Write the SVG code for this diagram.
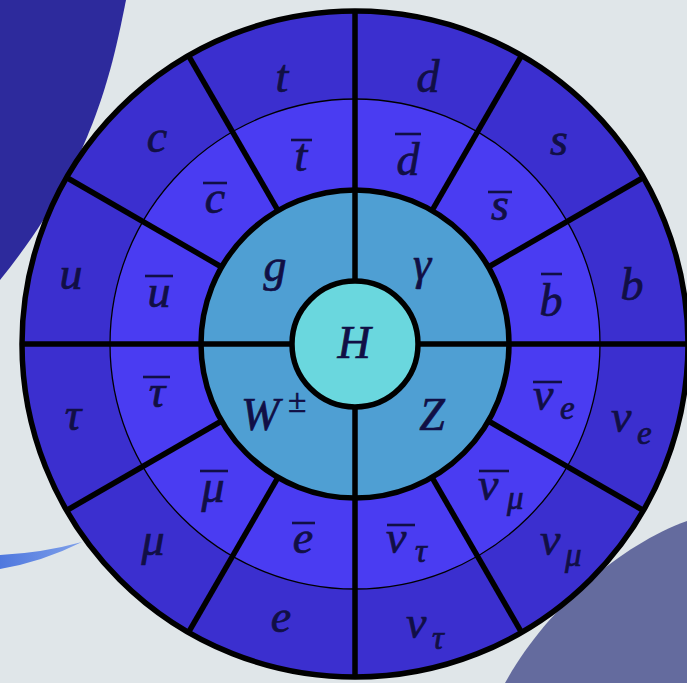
<svg xmlns="http://www.w3.org/2000/svg" width="687" height="683" viewBox="0 0 687 683">
<style>
.bg{fill:#e0e6e9}
.part{fill:#3b2fcf}
.anti{fill:#4a3cf2}
.bos{fill:#4f9fd3}
.hig{fill:#6ad7de}
.lbl{font-family:"Liberation Serif","DejaVu Serif",serif;font-style:italic;font-size:46px;fill:#110f45;stroke:#110f45;stroke-width:0.7}
.sub{font-size:33px}
.bar{stroke:#110f45;stroke-width:2.6}
.thick{fill:none;stroke:#000;stroke-width:5.5}
.thin{fill:none;stroke:#000;stroke-width:1.3}
</style>
<defs>
<linearGradient id="swoosh" x1="0" y1="0" x2="1" y2="0">
<stop offset="0" stop-color="#4f78de"/>
<stop offset="1" stop-color="#7fa0ea"/>
</linearGradient>
</defs>
<rect class="bg" x="0" y="0" width="687" height="683"/>
<g id="background-shapes">
<path d="M0,0 L126,0 C112,70 93,165 0,280 Z" fill="#2d2a9c"/>
<path d="M687,521 C620,545 545,610 505,683 L687,683 Z" fill="#646b9e"/>
<path d="M0,555 Q42,553 82,542 Q42,562 0,569 Z" fill="url(#swoosh)"/>
</g>
<g id="base">
<circle cx="355" cy="344" r="333" class="part"/>
<circle cx="355" cy="344" r="245" class="anti"/>
<circle cx="355" cy="344" r="154" class="bos"/>
<circle cx="355" cy="344" r="63" class="hig"/>
</g>
<g id="particles">
<g id="p-t"><path class="part" d="M355,11 A333,333 0 0 0 188.5,55.6 L232.5,131.8 A245,245 0 0 1 355,99 Z"/><text class="lbl" x="282" y="92" text-anchor="middle">t</text></g>
<g id="p-d"><path class="part" d="M521.5,55.6 A333,333 0 0 0 355,11 L355,99 A245,245 0 0 1 477.5,131.8 Z"/><text class="lbl" x="428" y="92" text-anchor="middle">d</text></g>
<g id="p-s"><path class="part" d="M643.4,177.5 A333,333 0 0 0 521.5,55.6 L477.5,131.8 A245,245 0 0 1 567.2,221.5 Z"/><text class="lbl" x="559" y="155" text-anchor="middle">s</text></g>
<g id="p-b"><path class="part" d="M688,344 A333,333 0 0 0 643.4,177.5 L567.2,221.5 A245,245 0 0 1 600,344 Z"/><text class="lbl" x="632" y="300" text-anchor="middle">b</text></g>
<g id="p-nue"><path class="part" d="M643.4,510.5 A333,333 0 0 0 688,344 L600,344 A245,245 0 0 1 567.2,466.5 Z"/><text class="lbl" x="611" y="432">ν<tspan class="sub" x="637" y="444">e</tspan></text></g>
<g id="p-numu"><path class="part" d="M521.5,632.4 A333,333 0 0 0 643.4,510.5 L567.2,466.5 A245,245 0 0 1 477.5,556.2 Z"/><text class="lbl" x="540" y="555">ν<tspan class="sub" x="565" y="566">μ</tspan></text></g>
<g id="p-nutau"><path class="part" d="M355,677 A333,333 0 0 0 521.5,632.4 L477.5,556.2 A245,245 0 0 1 355,589 Z"/><text class="lbl" x="406" y="638">ν<tspan class="sub" x="432" y="649">τ</tspan></text></g>
<g id="p-e"><path class="part" d="M188.5,632.4 A333,333 0 0 0 355,677 L355,589 A245,245 0 0 1 232.5,556.2 Z"/><text class="lbl" x="281" y="632" text-anchor="middle">e</text></g>
<g id="p-mu"><path class="part" d="M66.6,510.5 A333,333 0 0 0 188.5,632.4 L232.5,556.2 A245,245 0 0 1 142.8,466.5 Z"/><text class="lbl" x="153" y="555" text-anchor="middle">μ</text></g>
<g id="p-tau"><path class="part" d="M22,344 A333,333 0 0 0 66.6,510.5 L142.8,466.5 A245,245 0 0 1 110,344 Z"/><text class="lbl" x="73" y="430" text-anchor="middle">τ</text></g>
<g id="p-u"><path class="part" d="M66.6,177.5 A333,333 0 0 0 22,344 L110,344 A245,245 0 0 1 142.8,221.5 Z"/><text class="lbl" x="71" y="289" text-anchor="middle">u</text></g>
<g id="p-c"><path class="part" d="M188.5,55.6 A333,333 0 0 0 66.6,177.5 L142.8,221.5 A245,245 0 0 1 232.5,131.8 Z"/><text class="lbl" x="157" y="152" text-anchor="middle">c</text></g>
</g>
<g id="antiparticles">
<g id="a-t"><path class="anti" d="M355,99 A245,245 0 0 0 232.5,131.8 L278,210.6 A154,154 0 0 1 355,190 Z"/><text class="lbl" x="301" y="171" text-anchor="middle">t</text><line class="bar" x1="291" y1="140" x2="312" y2="140"/></g>
<g id="a-d"><path class="anti" d="M477.5,131.8 A245,245 0 0 0 355,99 L355,190 A154,154 0 0 1 432,210.6 Z"/><text class="lbl" x="408" y="175" text-anchor="middle">d</text><line class="bar" x1="395" y1="134" x2="421" y2="134"/></g>
<g id="a-s"><path class="anti" d="M567.2,221.5 A245,245 0 0 0 477.5,131.8 L432,210.6 A154,154 0 0 1 488.4,267 Z"/><text class="lbl" x="500" y="220" text-anchor="middle">s</text><line class="bar" x1="488" y1="192" x2="512" y2="192"/></g>
<g id="a-b"><path class="anti" d="M600,344 A245,245 0 0 0 567.2,221.5 L488.4,267 A154,154 0 0 1 509,344 Z"/><text class="lbl" x="551" y="316" text-anchor="middle">b</text><line class="bar" x1="541" y1="274" x2="562" y2="274"/></g>
<g id="a-nue"><path class="anti" d="M567.2,466.5 A245,245 0 0 0 600,344 L509,344 A154,154 0 0 1 488.4,421 Z"/><text class="lbl" x="533" y="410">ν<tspan class="sub" x="560" y="419">e</tspan></text><line class="bar" x1="533" y1="382" x2="562" y2="382"/></g>
<g id="a-numu"><path class="anti" d="M477.5,556.2 A245,245 0 0 0 567.2,466.5 L488.4,421 A154,154 0 0 1 432,477.4 Z"/><text class="lbl" x="478" y="500">ν<tspan class="sub" x="507" y="509">μ</tspan></text><line class="bar" x1="479" y1="471" x2="509" y2="471"/></g>
<g id="a-nutau"><path class="anti" d="M355,589 A245,245 0 0 0 477.5,556.2 L432,477.4 A154,154 0 0 1 355,498 Z"/><text class="lbl" x="386" y="553">ν<tspan class="sub" x="415" y="562">τ</tspan></text><line class="bar" x1="387" y1="525" x2="415" y2="525"/></g>
<g id="a-e"><path class="anti" d="M232.5,556.2 A245,245 0 0 0 355,589 L355,498 A154,154 0 0 1 278,477.4 Z"/><text class="lbl" x="303" y="553" text-anchor="middle">e</text><line class="bar" x1="292" y1="523" x2="315" y2="523"/></g>
<g id="a-mu"><path class="anti" d="M142.8,466.5 A245,245 0 0 0 232.5,556.2 L278,477.4 A154,154 0 0 1 221.6,421 Z"/><text class="lbl" x="213" y="502" text-anchor="middle">μ</text><line class="bar" x1="200" y1="471" x2="228" y2="471"/></g>
<g id="a-tau"><path class="anti" d="M110,344 A245,245 0 0 0 142.8,466.5 L221.6,421 A154,154 0 0 1 201,344 Z"/><text class="lbl" x="157" y="407" text-anchor="middle">τ</text><line class="bar" x1="143" y1="377" x2="170" y2="377"/></g>
<g id="a-u"><path class="anti" d="M142.8,221.5 A245,245 0 0 0 110,344 L201,344 A154,154 0 0 1 221.6,267 Z"/><text class="lbl" x="159" y="307" text-anchor="middle">u</text><line class="bar" x1="145" y1="276" x2="173" y2="276"/></g>
<g id="a-c"><path class="anti" d="M232.5,131.8 A245,245 0 0 0 142.8,221.5 L221.6,267 A154,154 0 0 1 278,210.6 Z"/><text class="lbl" x="215" y="213" text-anchor="middle">c</text><line class="bar" x1="203" y1="183" x2="227" y2="183"/></g>
</g>
<g id="bosons">
<g id="b-g"><path class="bos" d="M355,190 A154,154 0 0 0 201,344 L292,344 A63,63 0 0 1 355,281 Z"/><text class="lbl" x="275" y="281" text-anchor="middle">g</text></g>
<g id="b-gamma"><path class="bos" d="M509,344 A154,154 0 0 0 355,190 L355,281 A63,63 0 0 1 418,344 Z"/><text class="lbl" x="422" y="279" text-anchor="middle">γ</text></g>
<g id="b-w"><path class="bos" d="M201,344 A154,154 0 0 0 355,498 L355,407 A63,63 0 0 1 292,344 Z"/><text class="lbl" x="241" y="430">W<tspan class="sub" x="288" y="412">±</tspan></text></g>
<g id="b-z"><path class="bos" d="M355,498 A154,154 0 0 0 509,344 L418,344 A63,63 0 0 1 355,407 Z"/><text class="lbl" x="432" y="430" text-anchor="middle">Z</text></g>
<g id="b-h"><circle class="hig" cx="355" cy="344" r="63"/><text class="lbl" x="354" y="358" text-anchor="middle">H</text></g>
</g>
<g id="connectors">
<circle class="thin" cx="355" cy="344" r="245"/>
<circle class="thick" cx="355" cy="344" r="333"/>
<circle class="thick" cx="355" cy="344" r="154"/>
<circle class="thick" cx="355" cy="344" r="63"/>
<line class="thick" x1="418" y1="344" x2="688" y2="344"/>
<line class="thick" x1="292" y1="344" x2="22" y2="344"/>
<line class="thick" x1="355" y1="281" x2="355" y2="11"/>
<line class="thick" x1="355" y1="407" x2="355" y2="677"/>
<line class="thick" x1="488.4" y1="267" x2="643.4" y2="177.5"/>
<line class="thick" x1="432" y1="210.6" x2="521.5" y2="55.6"/>
<line class="thick" x1="278" y1="210.6" x2="188.5" y2="55.6"/>
<line class="thick" x1="221.6" y1="267" x2="66.6" y2="177.5"/>
<line class="thick" x1="221.6" y1="421" x2="66.6" y2="510.5"/>
<line class="thick" x1="278" y1="477.4" x2="188.5" y2="632.4"/>
<line class="thick" x1="432" y1="477.4" x2="521.5" y2="632.4"/>
<line class="thick" x1="488.4" y1="421" x2="643.4" y2="510.5"/>
</g>
</svg>
